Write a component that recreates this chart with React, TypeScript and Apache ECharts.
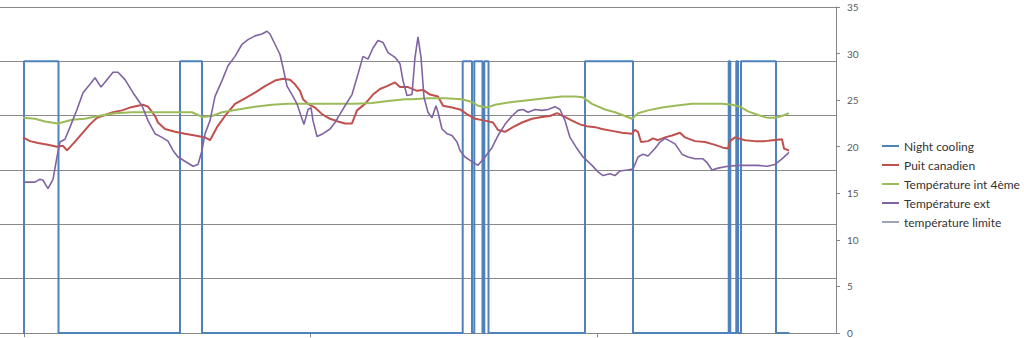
import React, { useEffect, useRef } from "react";
import * as echarts from "echarts";

const seriesNames = [
  "Night cooling",
  "Puit canadien",
  "Température int 4ème",
  "Température ext",
  "température limite",
];
const seriesColors = ["#4F81BD", "#C0504D", "#9BBB59", "#8064A2", "#A0A3B4"];

// Night cooling (0/1, left axis) – switching instants and new state
const nightT = [0, 1, 35.5, 157, 179, 439.7, 449, 451.3, 459.5, 461.3, 465.5, 562, 610, 705.7, 707.3, 713.3, 715, 718, 753, 766.3];
const nightV = [0, 1, 0, 1, 0, 1, 0, 1, 0, 1, 0, 1, 0, 1, 0, 1, 0, 1, 0, 0];

// Puit canadien (°C)
const puitT = [0, 7, 15, 25, 34, 40, 44, 50, 59, 67, 74, 82, 90, 99, 107, 115, 120, 125, 132, 135, 142, 152, 162, 172, 182, 187, 194, 202, 212, 222, 232, 242, 252, 260, 267, 272, 277, 280, 285, 292, 299, 307, 315, 322, 329, 334, 342, 350, 357, 364, 372, 377, 385, 394, 400, 407, 415, 420, 429, 437, 444, 452, 462, 470, 475, 482, 490, 499, 509, 519, 527, 534, 540, 549, 557, 564, 572, 579, 589, 599, 609, 612, 615, 618, 625, 630, 635, 642, 649, 657, 662, 672, 682, 692, 700, 705, 707, 712, 722, 732, 742, 750, 759, 761, 766];
const puitV = [21.0, 20.6, 20.4, 20.2, 20.0, 20.1, 19.6, 20.3, 21.4, 22.4, 23.1, 23.4, 23.7, 23.9, 24.2, 24.4, 24.5, 24.3, 23.3, 22.6, 21.9, 21.6, 21.4, 21.2, 21.0, 20.7, 22.1, 23.3, 24.6, 25.2, 25.8, 26.5, 27.1, 27.3, 27.2, 26.7, 26.0, 25.1, 24.6, 24.2, 23.5, 23.0, 22.7, 22.5, 22.5, 23.9, 24.6, 25.6, 26.2, 26.5, 26.9, 26.4, 26.4, 26.0, 26.1, 25.6, 25.4, 24.4, 24.2, 24.0, 23.5, 23.0, 22.8, 22.6, 21.8, 21.6, 22.1, 22.6, 23.0, 23.2, 23.3, 23.6, 23.3, 22.8, 22.4, 22.2, 22.1, 21.9, 21.7, 21.5, 21.4, 21.8, 21.6, 20.5, 20.6, 20.9, 20.7, 21.0, 21.2, 21.5, 21.0, 20.6, 20.5, 20.2, 19.9, 19.8, 20.6, 21.0, 20.7, 20.6, 20.6, 20.7, 20.8, 19.8, 19.6];

// Température int 4ème (°C)
const intT = [0, 12, 22, 35, 49, 62, 75, 92, 109, 125, 142, 159, 169, 179, 189, 199, 215, 232, 249, 265, 282, 299, 315, 332, 349, 365, 382, 389, 405, 422, 439, 449, 455, 464, 472, 489, 505, 522, 539, 552, 560, 569, 582, 592, 602, 609, 615, 625, 639, 652, 669, 685, 699, 709, 717, 725, 735, 745, 752, 759, 766];
const intV = [23.1, 23.0, 22.7, 22.5, 22.9, 23.0, 23.3, 23.6, 23.7, 23.7, 23.7, 23.7, 23.7, 23.2, 23.3, 23.7, 24.0, 24.3, 24.5, 24.6, 24.6, 24.6, 24.6, 24.6, 24.7, 24.9, 25.1, 25.1, 25.2, 25.2, 25.1, 24.8, 24.4, 24.2, 24.5, 24.8, 25.0, 25.2, 25.4, 25.4, 25.3, 24.6, 24.0, 23.7, 23.3, 23.0, 23.6, 23.9, 24.2, 24.4, 24.6, 24.6, 24.6, 24.5, 24.3, 23.8, 23.4, 23.1, 23.1, 23.3, 23.6];

// Température ext (°C)
const extT = [0, 12, 17, 20, 25, 30, 34, 37, 42, 47, 54, 60, 67, 72, 78, 84, 90, 95, 102, 110, 119, 125, 132, 139, 145, 150, 155, 164, 170, 175, 179, 182, 187, 192, 199, 205, 212, 219, 225, 232, 239, 244, 247, 252, 257, 260, 264, 269, 274, 278, 281, 285, 288, 290, 294, 300, 307, 312, 317, 322, 329, 335, 340, 345, 350, 355, 360, 365, 372, 377, 380, 384, 389, 392, 395, 398, 401, 405, 409, 413, 415, 419, 424, 429, 434, 437, 442, 449, 455, 462, 469, 475, 482, 489, 495, 500, 505, 512, 519, 525, 532, 537, 542, 547, 554, 560, 569, 575, 580, 587, 592, 597, 604, 610, 615, 620, 625, 632, 637, 642, 647, 652, 659, 665, 672, 680, 684, 689, 695, 705, 715, 725, 735, 744, 752, 759, 766];
const extV = [16.2, 16.2, 16.5, 16.4, 15.5, 16.5, 18.9, 20.5, 20.8, 22.1, 24.0, 25.8, 26.7, 27.4, 26.4, 27.2, 28.0, 28.0, 27.2, 25.8, 24.4, 22.8, 21.4, 21.0, 20.6, 19.6, 18.9, 18.3, 17.9, 18.1, 19.6, 21.4, 22.8, 25.4, 27.1, 28.7, 29.7, 31.0, 31.5, 31.9, 32.1, 32.4, 32.1, 31.0, 29.9, 28.5, 26.5, 25.6, 24.6, 23.3, 22.4, 24.0, 24.2, 22.8, 21.1, 21.4, 21.9, 22.6, 23.5, 24.4, 25.6, 27.8, 29.7, 29.4, 30.6, 31.4, 31.2, 30.1, 29.6, 28.9, 27.1, 25.5, 25.6, 29.6, 31.8, 29.6, 25.3, 23.7, 23.1, 24.4, 23.7, 21.9, 21.4, 21.2, 20.5, 19.6, 18.9, 18.4, 18.0, 18.9, 19.9, 21.2, 22.4, 23.3, 23.9, 24.0, 23.7, 24.0, 23.9, 24.0, 24.3, 24.0, 22.8, 21.0, 19.8, 18.9, 18.0, 17.3, 16.9, 17.1, 16.9, 17.4, 17.5, 17.6, 18.9, 19.2, 19.0, 19.8, 20.5, 20.9, 20.6, 20.3, 19.2, 18.9, 18.7, 18.7, 18.3, 17.5, 17.7, 17.9, 18.0, 18.0, 18.0, 17.9, 18.1, 18.7, 19.4];

// Axis ticks
const rightTicks = [0, 5, 10, 15, 20, 25, 30, 35];
const xTickValues = [1, 287, 574];

const pairs = (t: number[], v: number[]) => t.map((x, i) => [x, v[i]]);

export default function App() {
  const ref = useRef<HTMLDivElement>(null);
  useEffect(() => {
    document.body.style.margin = "0";
    const chart = echarts.init(ref.current!, null, { renderer: "svg" });
    const gray = "#868686";
    chart.setOption({
      animation: false,
      backgroundColor: "#ffffff",
      grid: { left: 0, right: 188, top: 7, height: 327, containLabel: false },
      legend: {
        orient: "vertical",
        left: 882,
        top: 139,
        padding: 0,
        itemWidth: 17,
        itemHeight: 2,
        itemGap: 5,
        icon: "rect",
        data: seriesNames,
        textStyle: { fontFamily: "Lato", fontSize: 12, color: "#333333", lineHeight: 14 },
      },
      xAxis: {
        type: "value",
        min: -23,
        max: 813,
        splitLine: { show: false },
        axisLine: { show: true, lineStyle: { color: gray, width: 1 } },
        axisTick: { show: true, length: 4, customValues: xTickValues, lineStyle: { color: gray } },
        axisLabel: { show: false },
      },
      yAxis: [
        {
          type: "value",
          position: "left",
          min: 0,
          max: 1.2,
          interval: 0.2,
          axisLine: { show: false },
          axisTick: { show: false },
          axisLabel: { show: false },
          splitLine: { show: true, lineStyle: { color: "#8a8a8a", width: 1 } },
        },
        {
          type: "value",
          position: "right",
          min: rightTicks[0],
          max: rightTicks[rightTicks.length - 1],
          interval: 5,
          axisLine: { show: true, lineStyle: { color: gray, width: 1 } },
          axisTick: { show: true, length: 4, lineStyle: { color: gray } },
          axisLabel: { show: true, margin: 11, fontFamily: "Lato", fontSize: 10, color: "#595959" },
          splitLine: { show: false },
        },
      ],
      series: [
        {
          name: seriesNames[0],
          type: "line",
          step: "end",
          yAxisIndex: 0,
          data: pairs(nightT, nightV),
          showSymbol: false,
          lineStyle: { color: seriesColors[0], width: 2 },
          itemStyle: { color: seriesColors[0] },
        },
        {
          name: seriesNames[1],
          type: "line",
          yAxisIndex: 1,
          data: pairs(puitT, puitV),
          showSymbol: false,
          lineStyle: { color: seriesColors[1], width: 2 },
          itemStyle: { color: seriesColors[1] },
        },
        {
          name: seriesNames[2],
          type: "line",
          yAxisIndex: 1,
          data: pairs(intT, intV),
          showSymbol: false,
          lineStyle: { color: seriesColors[2], width: 2 },
          itemStyle: { color: seriesColors[2] },
        },
        {
          name: seriesNames[3],
          type: "line",
          yAxisIndex: 1,
          data: pairs(extT, extV),
          showSymbol: false,
          lineStyle: { color: seriesColors[3], width: 1.6 },
          itemStyle: { color: seriesColors[3] },
        },
        {
          name: seriesNames[4],
          type: "line",
          yAxisIndex: 1,
          data: [],
          showSymbol: false,
          lineStyle: { color: seriesColors[4], width: 2 },
          itemStyle: { color: seriesColors[4] },
        },
      ],
    });
    return () => chart.dispose();
  }, []);
  return (
    <div
      ref={ref}
      style={{ position: "absolute", left: 0, top: 0, width: 1024, height: 338, background: "#fff" }}
    />
  );
}
